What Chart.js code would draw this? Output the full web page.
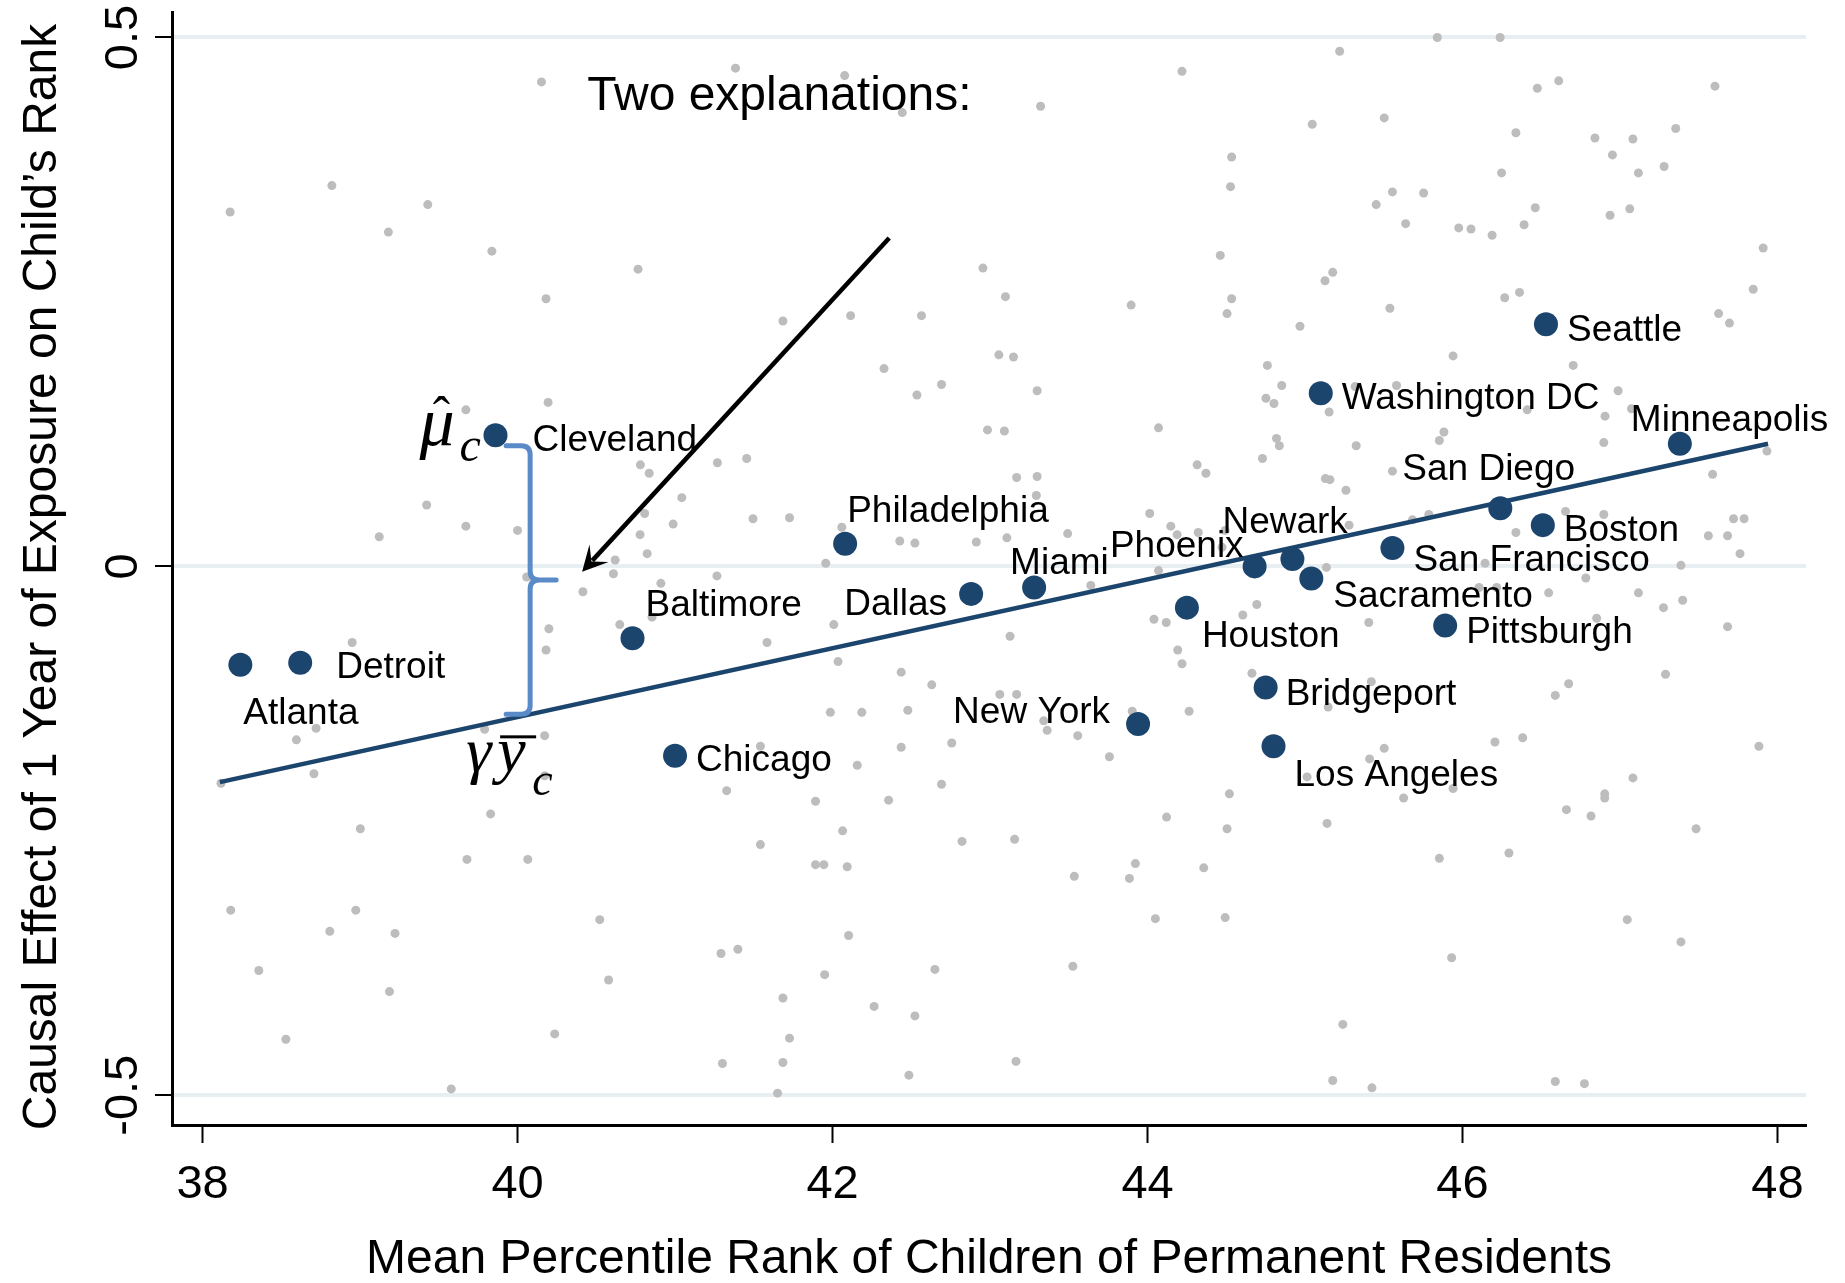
<!DOCTYPE html>
<html>
<head>
<meta charset="utf-8">
<script src="https://cdn.jsdelivr.net/npm/chart.js@4.4.1/dist/chart.umd.min.js"></script>
<style>
  html, body { margin: 0; padding: 0; background: #fff; }
  canvas { display: block; }
</style>
</head>
<body>
<canvas id="chart" width="1845" height="1283" style="width:1845px;height:1283px"></canvas>
<script>
// axis ticks
const xTicks = [38, 40, 42, 44, 46, 48];
const yTicks = [-0.5, 0, 0.5];
const yTickLabels = ['-0.5', '0', '0.5'];

// highlighted CZs
const cityNames = ['Atlanta', 'Detroit', 'Cleveland', 'Baltimore', 'Chicago', 'Philadelphia', 'Dallas', 'Miami',
  'New York', 'Houston', 'Phoenix', 'Newark', 'Bridgeport', 'Los Angeles', 'Sacramento', 'Washington DC',
  'San Francisco', 'Pittsburgh', 'San Diego', 'Boston', 'Seattle', 'Minneapolis'];
const cityX = [38.24, 38.62, 39.86, 40.73, 41.00, 42.08, 42.88, 43.28, 43.94, 44.25, 44.68, 44.92, 44.75, 44.80,
  45.04, 45.10, 45.555, 45.89, 46.24, 46.51, 46.53, 47.38];
const cityY = [-0.093, -0.091, 0.124, -0.068, -0.179, 0.0215, -0.026, -0.020, -0.149, -0.039, 0.000, 0.007, -0.1145,
  -0.170, -0.0115, 0.1636, 0.0174, -0.056, 0.0549, 0.039, 0.229, 0.116];

// all other CZs (grey)
const otherX = [40.152, 38.821, 38.175, 39.430, 39.180, 39.837, 40.765, 40.181, 39.672, 40.194, 40.780, 40.836, 41.269,
  41.043, 40.807, 40.988, 40.778, 40.823, 40.620, 39.423, 39.672, 39.122, 40.000,
  41.384, 42.077, 42.443, 43.321, 44.219, 44.534, 44.527, 44.462, 44.534, 44.505, 43.896, 42.955, 43.098, 41.685,
  42.115, 42.565, 43.056, 43.149, 42.327, 42.692, 42.536, 43.299, 42.984, 43.091, 44.070, 41.455, 44.315, 44.371,
  43.169, 43.299, 43.294, 41.495, 41.727, 42.059, 42.427, 42.523, 42.913, 43.107, 43.493, 44.014, 44.148, 44.188,
  44.322, 44.473, 44.493, 41.957,
  45.840, 46.239, 45.220, 46.475, 46.611, 47.603, 45.046, 45.503, 46.339, 46.841, 47.082, 47.354, 46.952, 47.117,
  47.280, 46.248, 45.555, 45.753, 45.452, 45.639, 45.976, 46.054, 46.188, 46.391, 46.462, 46.937, 47.062, 47.909,
  47.846, 47.626, 47.695, 45.176, 45.127, 46.268, 46.362, 45.539, 44.968, 45.940, 46.703, 44.761, 44.852, 44.752,
  44.803, 45.153, 45.318, 45.581, 46.411, 46.988, 46.905, 47.073, 44.819, 44.837, 44.730, 45.325, 45.853, 45.882,
  46.897, 47.933, 47.588, 45.555, 45.129, 45.158, 45.260, 45.280, 45.682, 45.786, 46.654, 46.897, 46.339, 47.561,
  47.683, 47.721, 47.788, 47.762, 47.387, 46.143, 45.136,
  40.058, 40.415, 40.609, 40.910, 41.266, 40.854, 40.649, 40.199, 40.181, 38.950, 38.721, 38.596, 38.707, 38.117,
  40.172, 39.791, 40.172, 39.829, 39.002, 39.679, 40.065, 38.179, 38.973, 38.808, 39.222, 40.522, 38.357, 39.187,
  40.578, 38.529, 40.236, 39.579,
  44.070, 43.640, 42.008, 41.584, 42.035, 43.127, 44.041, 44.119, 44.605, 44.694, 44.192, 44.219, 44.663, 42.436,
  42.630, 43.062, 43.169, 41.986, 42.186, 42.478, 43.341, 43.363, 43.557, 43.903, 44.264, 41.542, 42.436, 42.757,
  43.758, 42.157, 41.328, 42.692, 41.892, 42.356, 44.520, 44.121, 44.505, 42.064, 41.542, 42.822, 43.156, 41.892,
  41.945, 42.093, 43.535, 43.923, 43.885, 44.357, 44.050, 44.493, 41.292, 41.399, 42.102, 41.950, 42.650, 43.526,
  41.685, 42.264, 42.523, 41.727, 41.301, 41.685, 42.485, 43.165, 41.651,
  46.783, 46.547, 47.117, 47.398, 47.276, 46.852, 47.683, 45.405, 46.105, 46.217, 45.421, 45.147, 46.674, 46.589,
  47.289, 45.503, 45.410, 45.013, 45.940, 45.626, 46.206, 46.382, 47.882, 47.082, 46.903, 46.903, 46.660, 46.816,
  47.483, 45.140, 45.853, 46.295, 47.046, 47.387, 45.931, 45.240, 45.176, 45.425, 46.589, 46.774];
const otherY = [0.458, 0.360, 0.335, 0.342, 0.316, 0.298, 0.281, 0.253, 0.148, 0.155, 0.096, 0.088, 0.098,
  0.065, 0.050, 0.040, 0.030, 0.012, 0.006, 0.058, 0.038, 0.028, 0.034,
  0.471, 0.464, 0.429, 0.435, 0.468, 0.387, 0.359, 0.294, 0.253, 0.239, 0.247, 0.282, 0.255, 0.232,
  0.237, 0.237, 0.200, 0.198, 0.187, 0.172, 0.162, 0.166, 0.129, 0.128, 0.131, 0.102, 0.096, 0.088,
  0.084, 0.085, 0.067, 0.045, 0.046, 0.037, 0.024, 0.022, 0.023, 0.027, 0.031, 0.050, 0.038, 0.030,
  0.032, 0.018, 0.034, 0.003,
  0.500, 0.500, 0.487, 0.452, 0.459, 0.454, 0.418, 0.424, 0.410, 0.405, 0.404, 0.414, 0.389, 0.372,
  0.378, 0.372, 0.354, 0.353, 0.342, 0.324, 0.320, 0.319, 0.313, 0.323, 0.339, 0.332, 0.338, 0.301,
  0.262, 0.239, 0.230, 0.278, 0.270, 0.254, 0.259, 0.244, 0.227, 0.199, 0.190, 0.190, 0.171, 0.159,
  0.154, 0.146, 0.170, 0.171, 0.148, 0.166, 0.142, 0.149, 0.121, 0.114, 0.102, 0.114, 0.119, 0.127,
  0.117, 0.109, 0.087, 0.090, 0.083, 0.082, 0.072, 0.039, 0.044, 0.049, 0.052, 0.049, 0.032, 0.029,
  0.029, 0.045, 0.045, 0.012, 0.001, 0.003, -0.001,
  -0.010, -0.024, -0.007, -0.016, -0.009, -0.048, -0.055, -0.059, -0.079, -0.072, -0.153, -0.164, -0.196, -0.205,
  -0.160, -0.154, -0.198, -0.234, -0.248, -0.277, -0.277, -0.325, -0.325, -0.345, -0.347, -0.334, -0.382, -0.402,
  -0.391, -0.447, -0.442, -0.494,
  -0.004, -0.018, -0.055, -0.072, -0.090, -0.066, -0.050, -0.053, -0.046, -0.036, -0.079, -0.092, -0.101, -0.100,
  -0.112, -0.121, -0.121, -0.138, -0.138, -0.136, -0.146, -0.155, -0.160, -0.137, -0.137, -0.170, -0.171, -0.167,
  -0.180, -0.188, -0.212, -0.206, -0.222, -0.221, -0.215, -0.237, -0.248, -0.250, -0.263, -0.260, -0.258, -0.282,
  -0.282, -0.284, -0.293, -0.281, -0.295, -0.285, -0.333, -0.332, -0.366, -0.362, -0.349, -0.386, -0.381, -0.378,
  -0.408, -0.416, -0.425, -0.446, -0.470, -0.469, -0.481, -0.468, -0.498,
  -0.011, -0.025, -0.025, -0.032, -0.039, -0.049, -0.057, -0.053, -0.020, -0.020, -0.109, -0.133, -0.111, -0.122,
  -0.102, -0.172, -0.182, -0.199, -0.210, -0.219, -0.166, -0.162, -0.170, -0.200, -0.215, -0.219, -0.230, -0.236,
  -0.248, -0.243, -0.276, -0.271, -0.334, -0.355, -0.370, -0.433, -0.486, -0.493, -0.487, -0.489];

// fitted line end points
const fitX = [38.11, 47.94];
const fitY = [-0.204, 0.116];

// annotation anchors (data units)
const braceX = 40.08;
const arrowFrom = [42.36, 0.3105];
const arrowTo = [40.41, -0.005];
const noteAt = [40.443, 0.4315];
const yTitle = 'Causal Effect of 1 Year of Exposure on Child\u2019s Rank';

// label placement: [dx, dy to baseline, align] in px from the dot
const labelPos = {
  'Atlanta': [3, 59, 'left'], 'Detroit': [36, 15, 'left'], 'Cleveland': [37, 16, 'left'],
  'Baltimore': [13, -22, 'left'], 'Chicago': [21, 15, 'left'], 'Philadelphia': [2, -22, 'left'],
  'Dallas': [-24, 21, 'right'], 'Miami': [-24, -14, 'left'], 'New York': [-28, -1, 'right'],
  'Houston': [15, 39, 'left'], 'Phoenix': [-11, -9, 'right'], 'Newark': [-70, -26, 'left'],
  'Bridgeport': [20, 17, 'left'], 'Los Angeles': [21, 40, 'left'], 'Sacramento': [22, 28, 'left'],
  'Washington DC': [21, 16, 'left'], 'San Francisco': [21, 23, 'left'], 'Pittsburgh': [21, 17, 'left'],
  'San Diego': [-98, -28, 'left'], 'Boston': [21, 16, 'left'], 'Seattle': [21, 17, 'left'],
  'Minneapolis': [-49, -13, 'left']
};

const navy = '#1c456e';
const sans = '"Liberation Sans", Arial, sans-serif';
const serif = '"Liberation Serif", "Times New Roman", serif';

Chart.defaults.font.family = sans;
Chart.defaults.color = '#000';

function fitAt(v) {
  return fitY[0] + (fitY[1] - fitY[0]) * (v - fitX[0]) / (fitX[1] - fitX[0]);
}

const overlay = {
  id: 'overlay',
  afterDatasetsDraw(chart) {
    const {ctx, scales: {x, y}} = chart;
    const px = v => x.getPixelForValue(v);
    const py = v => y.getPixelForValue(v);
    ctx.save();

    // brace between mu_c and gamma*ybar_c
    const ci = cityNames.indexOf('Cleveland');
    const bx = px(braceX);
    const top = py(cityY[ci] - 0.01);
    const bot = py(fitAt(braceX));
    const mid = (top + bot) / 2;
    const r = 9;
    ctx.strokeStyle = '#5a8bc8';
    ctx.lineWidth = 5;
    ctx.lineCap = 'round';
    ctx.beginPath();
    ctx.moveTo(bx - 24, top);
    ctx.lineTo(bx - r, top);
    ctx.quadraticCurveTo(bx, top, bx, top + r);
    ctx.lineTo(bx, mid - r);
    ctx.quadraticCurveTo(bx, mid, bx + r, mid);
    ctx.lineTo(bx + 26, mid);
    ctx.moveTo(bx + r, mid);
    ctx.quadraticCurveTo(bx, mid, bx, mid + r);
    ctx.lineTo(bx, bot - r);
    ctx.quadraticCurveTo(bx, bot, bx - r, bot);
    ctx.lineTo(bx - 24, bot);
    ctx.stroke();

    // arrow
    const sx = px(arrowFrom[0]), sy = py(arrowFrom[1]);
    const tx = px(arrowTo[0]), ty = py(arrowTo[1]);
    const len = Math.hypot(tx - sx, ty - sy);
    const ux = (tx - sx) / len, uy = (ty - sy) / len;
    const hl = 25, hw = 13;
    ctx.strokeStyle = '#000';
    ctx.lineWidth = 4.5;
    ctx.lineCap = 'butt';
    ctx.beginPath();
    ctx.moveTo(sx, sy);
    ctx.lineTo(tx - ux * hl * 0.6, ty - uy * hl * 0.6);
    ctx.stroke();
    ctx.fillStyle = '#000';
    ctx.beginPath();
    ctx.moveTo(tx, ty);
    ctx.lineTo(tx - ux * hl - uy * hw, ty - uy * hl + ux * hw);
    ctx.lineTo(tx - ux * hl * 0.55, ty - uy * hl * 0.55);
    ctx.lineTo(tx - ux * hl + uy * hw, ty - uy * hl - ux * hw);
    ctx.closePath();
    ctx.fill();

    // city labels
    ctx.fillStyle = '#000';
    ctx.font = '37px ' + sans;
    ctx.textBaseline = 'alphabetic';
    cityNames.forEach((name, i) => {
      const p = labelPos[name];
      ctx.textAlign = p[2];
      ctx.fillText(name, px(cityX[i]) + p[0], py(cityY[i]) + p[1]);
    });

    // note
    ctx.textAlign = 'left';
    ctx.font = '48px ' + sans;
    ctx.fillText('Two explanations:', px(noteAt[0]), py(noteAt[1]));

    // mu-hat_c next to Cleveland
    const cx = px(cityX[ci]), cy = py(cityY[ci]);
    ctx.font = 'italic 70px ' + serif;
    ctx.fillText('\u03bc', cx - 76, cy + 10);
    ctx.font = '52px ' + serif;
    ctx.textAlign = 'center';
    ctx.fillText('\u02c6', cx - 54, cy - 2);
    ctx.textAlign = 'left';
    ctx.font = 'italic 48px ' + serif;
    ctx.fillText('c', cx - 36, cy + 26);

    // gamma y-bar_c under the brace
    ctx.font = 'italic 64px ' + serif;
    ctx.fillText('\u03b3', bx - 64, bot + 57);
    ctx.fillText('y', bx - 33, bot + 57);
    ctx.font = 'italic 46px ' + serif;
    ctx.fillText('c', bx + 2, bot + 81);
    ctx.fillStyle = '#000';
    ctx.fillRect(bx - 30, bot + 21, 36, 3);

    // rotated y tick labels
    ctx.font = '47px ' + sans;
    ctx.textAlign = 'center';
    ctx.textBaseline = 'middle';
    yTicks.forEach((v, i) => {
      ctx.save();
      ctx.translate(124.5, py(v));
      ctx.rotate(-Math.PI / 2);
      ctx.fillText(yTickLabels[i], 0, 0);
      ctx.restore();
    });

    // y axis title, sits a little below the plot centre
    ctx.font = '48px ' + sans;
    ctx.save();
    ctx.translate(42.5, py(-0.01));
    ctx.rotate(-Math.PI / 2);
    ctx.fillText(yTitle, 0, 0);
    ctx.restore();

    ctx.restore();
  }
};

new Chart(document.getElementById('chart'), {
  type: 'scatter',
  data: {
    datasets: [
      {
        label: 'cities',
        data: cityX.map((v, i) => ({x: v, y: cityY[i]})),
        pointRadius: 12,
        pointBackgroundColor: navy,
        pointBorderWidth: 0,
        order: 1
      },
      {
        label: 'fit',
        type: 'line',
        data: fitX.map((v, i) => ({x: v, y: fitY[i]})),
        borderColor: navy,
        borderWidth: 4.5,
        pointRadius: 0,
        fill: false,
        order: 2
      },
      {
        label: 'other',
        data: otherX.map((v, i) => ({x: v, y: otherY[i]})),
        pointRadius: 4.5,
        pointBackgroundColor: '#bdbdbd',
        pointBorderWidth: 0,
        order: 3
      }
    ]
  },
  options: {
    responsive: false,
    animation: false,
    devicePixelRatio: 1,
    layout: { padding: { top: 12, right: 39, left: 0, bottom: 0 } },
    plugins: {
      legend: { display: false },
      tooltip: { enabled: false }
    },
    scales: {
      x: {
        type: 'linear',
        min: 37.806,
        max: 48.181,
        afterBuildTicks: s => { s.ticks = xTicks.map(v => ({value: v})); },
        afterFit: s => { s.height = 158; },
        border: { display: true, color: '#000', width: 3 },
        grid: { drawOnChartArea: false, drawTicks: true, tickLength: 18, tickColor: '#000', tickWidth: 2 },
        ticks: {
          autoSkip: false,
          maxRotation: 0,
          padding: 14,
          font: { size: 47 },
          color: '#000',
          callback: v => String(v)
        },
        title: {
          display: true,
          text: 'Mean Percentile Rank of Children of Permanent Residents',
          font: { size: 48 },
          color: '#000',
          padding: { top: 0, bottom: -6 }
        }
      },
      y: {
        type: 'linear',
        min: -0.5281,
        max: 0.5241,
        afterBuildTicks: s => { s.ticks = yTicks.map(v => ({value: v})); },
        afterFit: s => { s.width = 172; },
        border: { display: true, color: '#000', width: 3 },
        grid: { color: '#e8eff2', lineWidth: 4, drawTicks: true, tickLength: 17, tickColor: '#000', tickWidth: 2 },
        ticks: { display: false },
        title: { display: false }
      }
    }
  },
  plugins: [overlay]
});
</script>
</body>
</html>
